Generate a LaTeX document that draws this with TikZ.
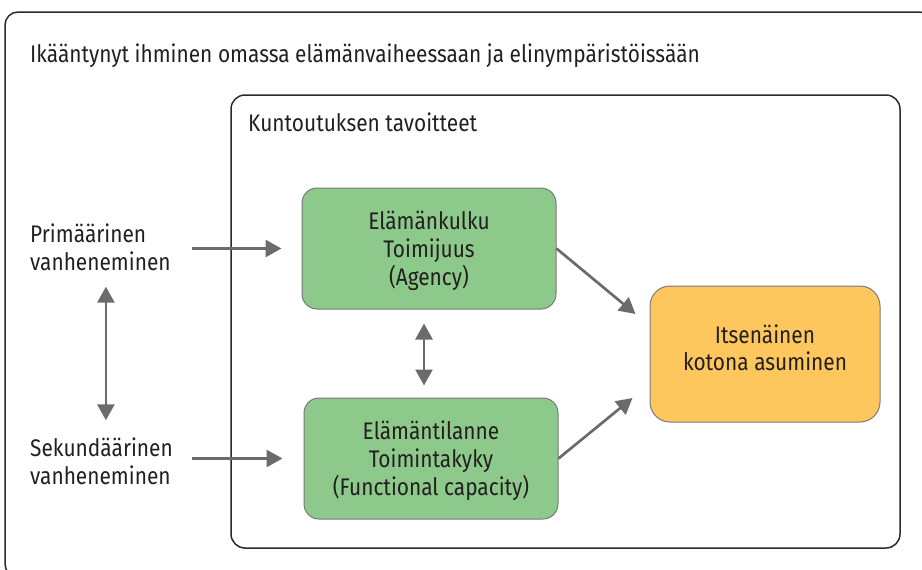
\documentclass[tikz,border=0pt]{standalone}
\usepackage{fontspec}
\setmainfont{Fira Sans}[FakeStretch=0.87]
\usetikzlibrary{arrows.meta,calc}

\definecolor{frame}{HTML}{2B2B2B}
\definecolor{txt}{HTML}{231F20}
\definecolor{arrowgray}{HTML}{6B6B6E}
\definecolor{boxedge}{HTML}{7A7A7A}
\definecolor{greenfill}{HTML}{8CC98A}
\definecolor{orangefill}{HTML}{FDC75D}

% invisible rules fixing the height of a first line and the depth of a last line
\newcommand{\tophigh}[1]{\rule{0pt}{#1}}
\newcommand{\lowdeep}[1]{\rule[-#1]{0pt}{#1}}

\tikzset{
  label text/.style={font=\fontsize{24}{28}\selectfont, text=txt, inner sep=0pt},
  greenbox/.style={label text, draw=boxedge, line width=1pt, fill=greenfill,
    rounded corners=15pt, align=center, minimum width=254pt, minimum height=121pt},
  goalbox/.style={label text, draw=boxedge, line width=1pt, fill=orangefill,
    rounded corners=20pt, align=center, minimum width=230pt, minimum height=136pt},
  arr/.style={draw=arrowgray, line width=2.7pt,
    -{Triangle[length=16pt,width=17pt]}},
  dblarr/.style={draw=arrowgray, line width=2.7pt,
    {Triangle[length=16pt,width=17pt]}-{Triangle[length=16pt,width=17pt]}},
  framebox/.style={draw=frame, line width=1.5pt}
}

\begin{document}
\begin{tikzpicture}[x=1pt,y=-1pt]
  \useasboundingbox (0,0) rectangle (922,570);

  % frames
  \begin{scope}
    \clip (0,0) rectangle (922,570);
    \draw[framebox, rounded corners=13pt] (5,12) rectangle (933,577);
  \end{scope}
  \draw[framebox, rounded corners=14pt] (231,95) rectangle (900,548);

  % headings
  \node[label text, anchor=base west] (outertitle) at (30,62)
    {Ikääntynyt ihminen omassa elämänvaiheessaan ja elinympäristöissään};
  \node[label text, anchor=base west] (innertitle) at (248,131)
    {Kuntoutuksen tavoitteet};

  % ageing labels
  \node[label text, anchor=west, align=left] (prim) at (30,247)
    {Primäärinen\\vanheneminen};
  \node[label text, anchor=west, align=left] (sek) at (30,461)
    {Sekundäärinen\\vanheneminen};

  % boxes
  \node[greenbox] (agency) at (429,248.5)
    {\tophigh{25pt}Elämänkulku\\Toimijuus\\(Agency)\lowdeep{7pt}};
  \node[greenbox] (capacity) at (431,458.5)
    {\tophigh{25pt}Elämäntilanne\\Toimintakyky\\(Functional capacity)\lowdeep{7pt}};
  \node[goalbox] (home) at (765,354)
    {\tophigh{20pt}Itsenäinen\\[-1pt]kotona asuminen\lowdeep{15pt}};

  % connectors
  \draw[arr, shorten >=20pt] ($(prim.west |- agency.west)+(162,0)$) -- (agency.west);
  \draw[arr, shorten >=21pt] ($(sek.west |- capacity.west)+(162,0)$) -- (capacity.west);
  \draw[dblarr, shorten <=16pt, shorten >=17pt]
    ([xshift=5.5pt]prim.south) -- ([xshift=5.5pt]prim.south |- sek.north);
  \draw[dblarr, shorten <=14pt, shorten >=12pt]
    ([xshift=-5pt]agency.south) -- ([xshift=-5pt]agency.south |- capacity.north);
  \draw[arr] (agency.east) -- ($(home.west)+(-14,-40)$);
  \draw[arr] (capacity.east) -- ($(home.west)+(-17,44)$);
\end{tikzpicture}
\end{document}
